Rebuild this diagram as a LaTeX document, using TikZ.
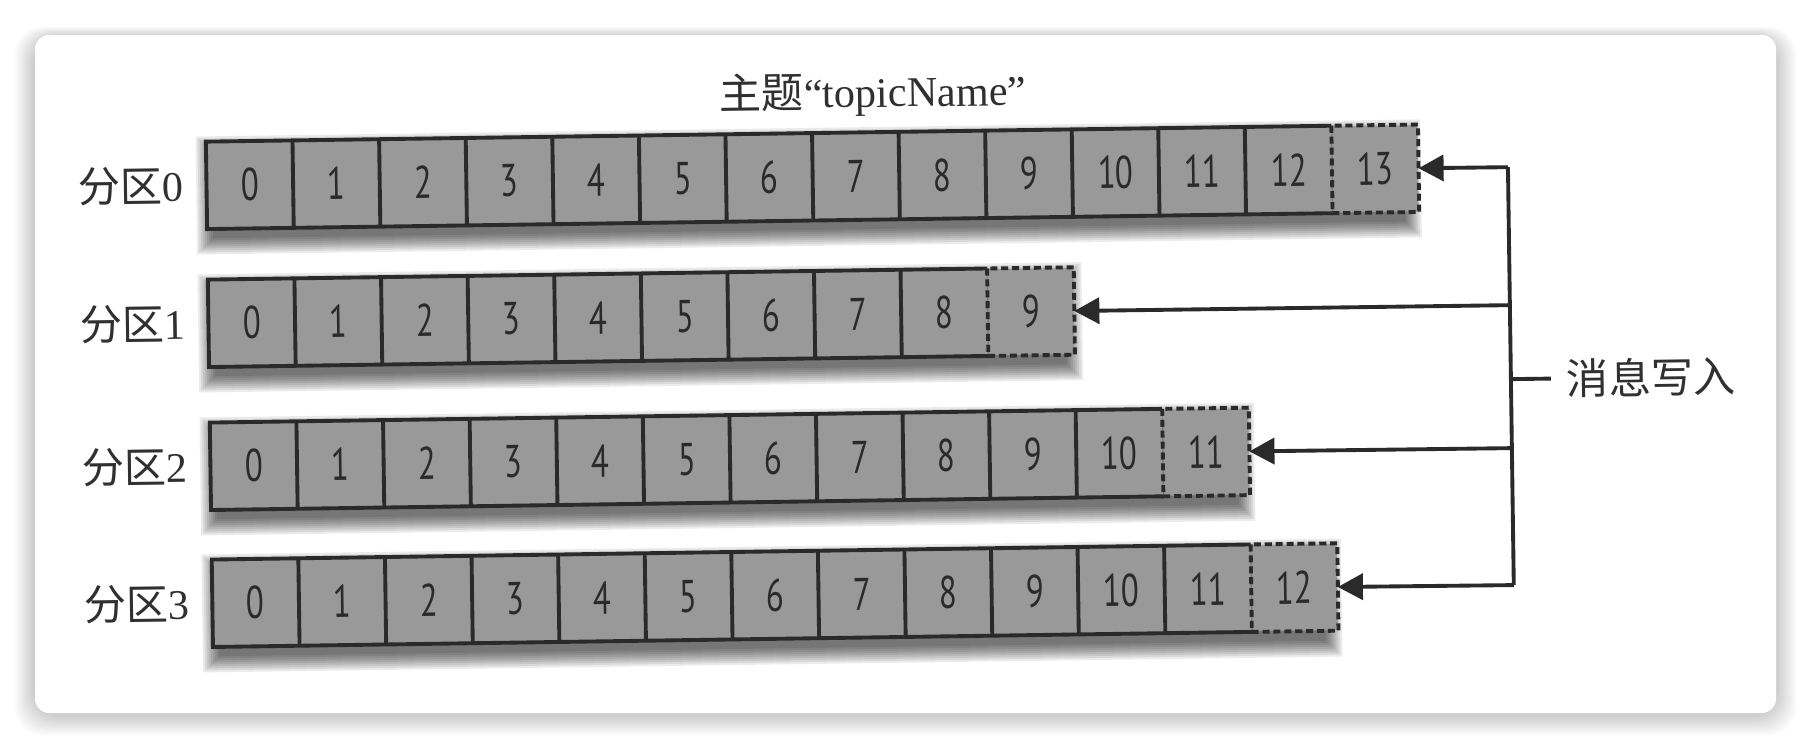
\documentclass[tikz,border=0pt]{standalone}
\usepackage{fontspec}
\setmainfont{Liberation Serif}
\newfontfamily\cjk{Noto Sans CJK SC}
\newfontfamily\cellfont{PT Sans}[FakeStretch=0.72]
\usetikzlibrary{arrows.meta,positioning}
\definecolor{cellgray}{HTML}{999999}
\definecolor{ink}{HTML}{2A2A2A}
\definecolor{labelink}{HTML}{303030}
\tikzset{
  cellbox/.style={fill=cellgray, minimum width=0.852cm, minimum height=0.86cm,
    inner sep=0pt, text=ink, font=\cellfont\fontsize{13}{14}\selectfont},
  rowline/.style={draw=ink, line width=1.1pt},
  tailline/.style={rowline, dash pattern=on 2pt off 1.1pt},
  wire/.style={draw=ink, line width=1.1pt},
  wirearr/.style={wire, -{Triangle[length=0.25cm, width=0.26cm]}},
  tag/.style={text=labelink, font=\fontsize{12}{14}\selectfont, inner sep=0pt},
  rowshade/.style={fill=black, opacity=0.08},
  cardshade/.style={fill=black, opacity=0.018, rounded corners=8pt}
}

\begin{document}
\begin{tikzpicture}[x=0.01cm, y=-0.01cm]
  \useasboundingbox (0,0) rectangle (1812,750);
  \fill[white] (0,0) rectangle (1812,750);
  % card with soft shadow
  \foreach \g in {1,...,10}
    \fill[cardshade] (35-2*\g, 37-\g) rectangle (1776+2*\g, 715+2*\g);
  \fill[white, rounded corners=4pt] (35,35) rectangle (1776,713);

  % the scanned figure sits slightly tilted in the card
  \begin{scope}[rotate around={0.8:(877,380)}, transform shape]
  \node[tag] (title) at (877,94) {{\cjk 主题}“topicName”};

  \foreach \r/\last/\y in {0/13/176, 1/9/314, 2/11/457, 3/12/594} {
    \pgfmathsetmacro\xend{210+85.2*(\last+1)}
    \foreach \k in {0,...,8}
      \fill[rowshade] (210+5-2*\k, \y-43+10-2*\k) rectangle (\xend+5+2*\k, \y+43+10+2*\k);
    \foreach \n in {0,...,\last} {
      \ifnum\n=0
        \node[cellbox] (c\r-\n) at (252.6,\y) {\n};
      \else
        \pgfmathtruncatemacro\prev{\n-1}
        \node[cellbox, right=0pt of c\r-\prev] (c\r-\n) {\n};
      \fi
    }
    \pgfmathtruncatemacro\lastm{\last-1}
    \foreach \n in {1,...,\lastm}
      \draw[rowline] (c\r-\n.north west) -- (c\r-\n.south west);
    \draw[rowline] (c\r-\last.north west) -- (c\r-0.north west)
      -- (c\r-0.south west) -- (c\r-\last.south west);
    \draw[tailline] (c\r-\last.north west) rectangle (c\r-\last.south east);
    \node[tag, left=0.22cm of c\r-0] (p\r) {{\cjk 分区}\r};
    \coordinate (bus\r) at (1511,\y);
    \draw[wirearr] (bus\r) -- (c\r-\last.east);
  }

  \draw[wire] (bus0) -- (bus3);
  \node[tag, anchor=west, inner xsep=0.15cm] (write) at (1551,388) {{\cjk 消息写入}};
  \draw[wire] (write.west -| bus0) -- (write.west);
  \end{scope}
\end{tikzpicture}
\end{document}
